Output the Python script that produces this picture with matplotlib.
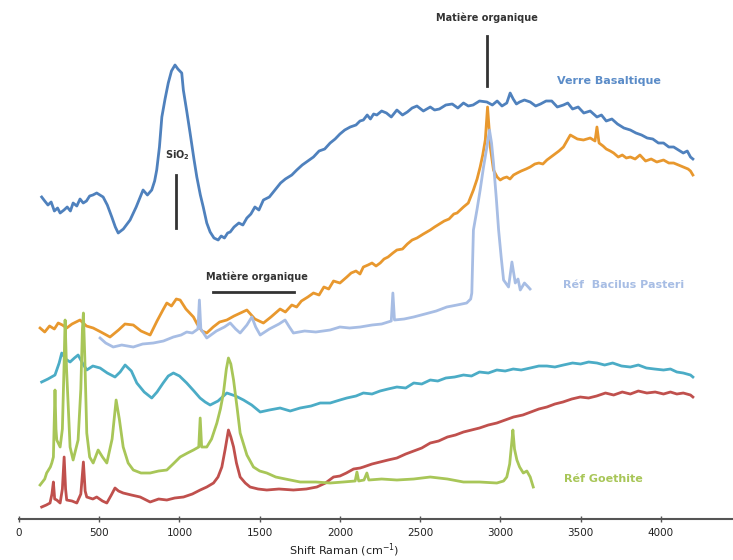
import matplotlib
matplotlib.use('Agg')
import matplotlib.pyplot as plt

# spectres decales (intensite en unites arbitraires, offset deja applique)
verre_x = [141, 160, 180, 200, 220, 240, 256, 280, 300, 320, 337, 360, 380, 400, 420, 440, 460, 484,
           524, 550, 578, 600, 618, 650, 692, 730, 773, 800, 827, 845, 858, 875, 890, 910, 930, 950,
           972, 990, 1014, 1024, 1045, 1066, 1090, 1108, 1130, 1148, 1170, 1191, 1215, 1241, 1260,
           1280, 1300, 1316, 1340, 1370, 1395, 1420, 1445, 1470, 1495, 1523, 1560, 1600, 1630, 1660,
           1700, 1731, 1765, 1800, 1835, 1870, 1905, 1939, 1970, 2000, 2030, 2064, 2100, 2125, 2146,
           2170, 2190, 2210, 2230, 2260, 2290, 2320, 2355, 2390, 2420, 2450, 2480, 2520, 2563, 2590,
           2620, 2660, 2700, 2735, 2770, 2800, 2830, 2870, 2916, 2950, 2980, 3010, 3040, 3061, 3080,
           3100, 3120, 3150, 3186, 3220, 3250, 3285, 3320, 3355, 3393, 3420, 3450, 3485, 3520, 3560,
           3602, 3630, 3660, 3695, 3730, 3770, 3810, 3845, 3880, 3915, 3950, 3985, 4017, 4050, 4080,
           4110, 4140, 4165, 4185, 4200]
verre_y = [322, 318, 314, 317, 308, 311, 306, 309, 312, 308, 316, 313, 320, 316, 318, 323, 324, 326,
           322, 314, 302, 292, 286, 290, 299, 312, 329, 324, 329, 338, 349, 372, 402, 420, 436, 448,
           454, 450, 446, 429, 408, 386, 360, 342, 324, 312, 296, 287, 281, 279, 283,
           281, 286, 287, 292, 296, 294, 301, 305, 312, 309, 319, 322, 330, 336, 340,
           344, 349, 354, 358, 362, 368, 370, 376, 380, 385, 389, 392, 394, 398, 399,
           404, 400, 405, 404, 408, 406, 402, 409, 404, 407, 411, 413, 408, 412, 409,
           410, 414, 415, 411, 416, 413, 414, 418, 417, 414, 418, 413, 416, 426, 420,
           415, 417, 419, 417, 413, 415, 418, 418, 412, 414, 416, 410, 412, 406, 408,
           402, 404, 398, 400, 395, 391, 389, 386, 384, 381, 380, 376, 376, 372, 372,
           369, 366, 368, 362, 360]

orange_x = [131, 160, 190, 220, 244, 270, 297, 330, 380, 420, 462, 510, 567, 620, 660, 712, 760, 817,
            860, 900, 921, 950, 980, 1004, 1040, 1087, 1110, 1140, 1170, 1210, 1250, 1295, 1340, 1380,
            1420, 1470, 1523, 1570, 1627, 1660, 1700, 1730, 1760, 1800, 1835, 1870, 1900, 1930, 1960,
            2000, 2043, 2070, 2100, 2125, 2146, 2175, 2200, 2225, 2251, 2275, 2300, 2330, 2355, 2390,
            2420, 2450, 2480, 2520, 2563, 2590, 2620, 2650, 2680, 2710, 2730, 2750, 2770, 2800, 2832,
            2855, 2874, 2890, 2906, 2920, 2930, 2937, 2957, 2980, 2999, 3020, 3040, 3060, 3082, 3105,
            3130, 3160, 3186, 3215, 3240, 3265, 3290, 3315, 3340, 3365, 3393, 3436, 3480, 3518, 3560,
            3590, 3602, 3615, 3640, 3660, 3685, 3706, 3735, 3760, 3785, 3810, 3840, 3870, 3905, 3940,
            3975, 4017, 4050, 4080, 4110, 4140, 4170, 4185, 4200]
orange_y = [191, 187, 193, 190, 196, 194, 191, 195, 199, 193, 191, 187, 182, 189, 195, 194, 188, 184,
            198, 210, 216, 213, 220, 219, 210, 202, 195, 188, 186, 192, 197, 199, 203, 206,
            209, 200, 196, 202, 210, 207, 214, 212, 218, 222, 226, 224, 232, 230, 238,
            236, 242, 246, 248, 245, 252, 254, 256, 253, 256, 260, 262, 266, 269, 270,
            275, 279, 281, 285, 289, 292, 295, 298, 300, 305, 306, 309, 312, 316, 329,
            340, 352, 364, 379, 412, 390, 372, 349, 342, 339, 341, 342, 340, 344, 346,
            348, 350, 352, 355, 356, 355, 359, 362, 365, 368, 372, 384, 380, 379, 381,
            378, 392, 376, 373, 370, 368, 366, 362, 364, 361, 362, 360, 364, 358, 360,
            357, 359, 356, 356, 354, 352, 350, 348, 344]

bacil_x = [505, 540, 587, 640, 712, 770, 837, 900, 962, 1010, 1045, 1080, 1115, 1124, 1133, 1170,
           1230, 1280, 1316, 1350, 1378, 1420, 1451, 1475, 1503, 1560, 1620, 1658, 1685, 1710, 1780,
           1850, 1939, 2000, 2060, 2126, 2200, 2260, 2320, 2330, 2340, 2400, 2459, 2530, 2600, 2666,
           2730, 2790, 2815, 2822, 2832, 2855, 2874, 2895, 2916, 2932, 2945, 2957, 2975, 2989, 3005,
           3020, 3051, 3072, 3093, 3110, 3124, 3150, 3174, 3185]
bacil_y = [181, 176, 172, 174, 172, 175, 176, 178, 182, 184, 187, 186, 190, 219, 190, 181,
           188, 192, 196, 190, 186, 194, 202, 192, 184, 190, 195, 199, 192, 186, 188,
           187, 189, 192, 191, 192, 194, 195, 198, 226, 199, 200, 202, 205, 208, 212,
           214, 216, 220, 226, 289, 310, 329, 352, 372, 389, 376, 356, 320, 289, 262,
           239, 232, 257, 236, 240, 229, 236, 232, 230]

teal_x = [141, 180, 224, 250, 266, 290, 318, 345, 368, 395, 422, 460, 505, 550, 598, 630, 661, 700,
          734, 780, 827, 860, 898, 930, 962, 1000, 1045, 1090, 1128, 1160, 1191, 1240, 1295, 1350,
          1399, 1450, 1503, 1560, 1627, 1690, 1752, 1820, 1877, 1939, 2000, 2043, 2100, 2146, 2200,
          2250, 2300, 2355, 2410, 2460, 2510, 2563, 2610, 2660, 2715, 2770, 2820, 2870, 2925, 2978,
          3030, 3080, 3130, 3186, 3240, 3290, 3340, 3393, 3450, 3500, 3550, 3602, 3650, 3700, 3755,
          3810, 3860, 3910, 3960, 4017, 4060, 4100, 4140, 4185, 4200]
teal_y = [137, 140, 144, 156, 166, 160, 157, 161, 164, 156, 149, 153, 151, 146, 142, 147, 154, 148,
          136, 127, 121, 127, 136, 143, 146, 143, 136, 128, 121, 117, 114, 118, 126, 123,
          119, 114, 107, 109, 111, 108, 111, 113, 116, 116, 119, 121, 123, 126, 125,
          128, 130, 132, 131, 136, 135, 139, 138, 141, 142, 144, 143, 147, 146, 149,
          148, 150, 149, 151, 153, 153, 152, 154, 156, 155, 157, 156, 154, 156, 153,
          152, 154, 151, 150, 149, 150, 147, 146, 144, 142]

goeth_x = [131, 160, 172, 195, 204, 214, 224, 230, 235, 256, 270, 280, 287, 296, 318, 337, 368, 385,
           395, 401, 410, 422, 440, 462, 493, 520, 547, 580, 605, 625, 649, 680, 712, 760, 817, 870,
           921, 960, 1004, 1050, 1087, 1120, 1129, 1138, 1170, 1200, 1233, 1255, 1274, 1292, 1305,
           1320, 1337, 1360, 1378, 1420, 1461, 1500, 1544, 1600, 1660, 1752, 1850, 1939, 2020, 2095,
           2106, 2117, 2150, 2168, 2180, 2260, 2355, 2460, 2563, 2670, 2770, 2870, 2978, 3020, 3040,
           3058, 3070, 3078, 3088, 3103, 3120, 3143, 3165, 3186, 3205]
goeth_y = [34, 40, 46, 52, 56, 62, 129, 90, 79, 72, 90, 150, 199, 150, 72, 59, 79, 130,
           190, 206, 160, 86, 62, 56, 69, 62, 56, 80, 119, 100, 72, 56, 49, 46, 46, 48,
           49, 55, 62, 66, 69, 72, 101, 72, 72, 80, 96, 110, 126, 150, 161,
           155, 139, 110, 86, 64, 52, 48, 46, 42, 40, 37, 37, 36, 37, 38,
           47, 38, 39, 46, 39, 40, 39, 40, 42, 40, 37, 37, 36, 38, 42,
           55, 75, 89, 70, 59, 52, 46, 48, 42, 32]

red_x = [141, 170, 193, 205, 214, 222, 235, 256, 270, 281, 290, 297, 330, 360, 385, 401, 412, 422,
         460, 484, 520, 547, 575, 598, 620, 649, 700, 755, 817, 870, 921, 970, 1025, 1080, 1129,
         1170, 1212, 1240, 1264, 1285, 1305, 1320, 1337, 1355, 1378, 1410, 1440, 1490, 1544, 1620,
         1710, 1790, 1856, 1910, 1960, 2000, 2040, 2085, 2126, 2146, 2200, 2250, 2300, 2355, 2410,
         2460, 2510, 2563, 2615, 2670, 2720, 2770, 2820, 2870, 2925, 2978, 3030, 3082, 3140, 3190,
         3240, 3290, 3340, 3390, 3445, 3498, 3550, 3600, 3655, 3706, 3760, 3810, 3860, 3913, 3965,
         4017, 4060, 4100, 4140, 4185, 4200]
red_y = [12, 14, 16, 25, 37, 20, 19, 16, 30, 62, 30, 19, 18, 16, 25, 57, 28, 22,
         20, 22, 18, 16, 24, 31, 28, 26, 24, 22, 17, 20, 19, 21, 22, 25, 29,
         32, 36, 42, 52, 70, 89, 82, 72, 56, 42, 36, 32, 30, 29, 30,
         29, 30, 32, 36, 42, 43, 46, 50, 51, 52, 55, 57, 59, 61, 65,
         68, 71, 76, 78, 82, 84, 87, 89, 91, 94, 96, 99, 102, 104, 107,
         110, 112, 115, 117, 120, 122, 121, 123, 126, 124, 127, 125, 128, 126, 127,
         125, 127, 125, 126, 124, 122]

x_ticks = [0, 500, 1000, 1500, 2000, 2500, 3000, 3500, 4000]

fig = plt.figure(figsize=(7.33, 5.6), dpi=100)
ax = fig.add_axes([0.026, 0.0732, 0.974, 0.9268])

lw = 2.0
ax.plot(verre_x, verre_y, color='#4f81bd', lw=lw)
ax.plot(orange_x, orange_y, color='#e8982e', lw=lw)
ax.plot(bacil_x, bacil_y, color='#a7bde4', lw=lw)
ax.plot(teal_x, teal_y, color='#4bacc6', lw=lw)
ax.plot(red_x, red_y, color='#c0504d', lw=lw)
ax.plot(goeth_x, goeth_y, color='#a8c658', lw=lw)

# annotations
txt = dict(fontsize=7, fontweight='bold', color='#333333', ha='center', va='center')
ax.text(2917, 501, 'Matière organique', **txt)
ax.plot([2917, 2917], [433, 483], color='#333333', lw=2)
ax.text(985, 364, 'SiO$_\\mathbf{2}$', **txt)
ax.plot([979, 979], [291, 344], color='#333333', lw=2)
ax.text(1484, 242, 'Matière organique', **txt)
ax.plot([1210, 1715], [227, 227], color='#333333', lw=2)

ax.text(3679, 438, 'Verre Basaltique', fontsize=8, fontweight='bold', color='#5b8cc8', ha='center', va='center')
ax.text(3766, 234, 'Réf  Bacilus Pasteri', fontsize=8, fontweight='bold', color='#a7bde4', ha='center', va='center')
ax.text(3641, 40, 'Réf Goethite', fontsize=8, fontweight='bold', color='#a8c658', ha='center', va='center')

ax.set_xlim(0, 4450)
ax.set_ylim(0, 519)
ax.set_xticks(x_ticks)
ax.set_yticks([])
for s in ['top', 'right', 'left']:
    ax.spines[s].set_visible(False)
ax.spines['bottom'].set_color('#555555')
ax.spines['bottom'].set_linewidth(1.5)
ax.tick_params(axis='x', direction='inout', length=5, width=1, color='#555555',
               labelsize=7.5, labelcolor='#222222', pad=4)
fig.text(344 / 733, 1 - 550 / 560, 'Shift Raman (cm$^{-1}$)', fontsize=8, color='#222222',
         ha='center', va='center')

fig.savefig('out.png', dpi=100)
